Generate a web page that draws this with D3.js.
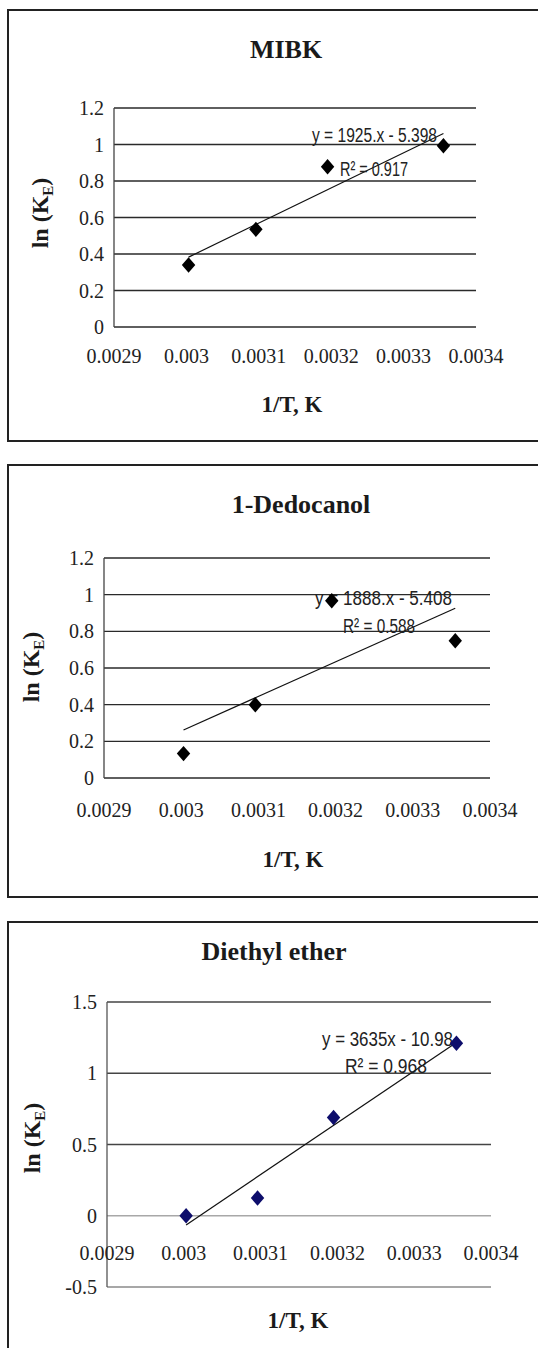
<!DOCTYPE html>
<html>
<head>
<meta charset="utf-8">
<script src="https://cdn.jsdelivr.net/npm/d3@7"></script>
<style>
  body { margin: 0; background: #fff; }
  svg { display: block; }
</style>
</head>
<body>
<div id="chart"></div>
<script>
// 1/T values (same four temperatures in each panel)
const invT = [0.003003, 0.003096, 0.003195, 0.003355];

// ln(KE)
const lnKeMibk = [0.34, 0.535, 0.878, 0.993];
const lnKeDodecanol = [0.133, 0.40, 0.967, 0.749];
const lnKeEther = [0.0, 0.124, 0.69, 1.21];

// trendline equations as printed
const slopes = [1925, 1888, 3635];
const intercepts = [-5.398, -5.408, -10.98];
const eqLabels = ["y = 1925.x - 5.398", "y = 1888.x - 5.408", "y = 3635x - 10.98"];
const r2Labels = ["R\u00B2 = 0.917", "R\u00B2 = 0.588", "R\u00B2 = 0.968"];

const titles = ["MIBK", "1-Dedocanol", "Diethyl ether"];

const xTicks = [0.0029, 0.003, 0.0031, 0.0032, 0.0033, 0.0034];
const xTickLabels = ["0.0029", "0.003", "0.0031", "0.0032", "0.0033", "0.0034"];
const yTicksA = [0, 0.2, 0.4, 0.6, 0.8, 1, 1.2];
const yTicksB = [-0.5, 0, 0.5, 1, 1.5];

const serif = "'Liberation Serif', 'Times New Roman', serif";

var svg = d3.select("#chart")
    .append("svg")
    .attr("width", 538)
    .attr("height", 1348);

function drawPanel(p){
    var g = svg.append("g");

    // outer frame
    g.append("rect")
    .attr("x", 8)
    .attr("y", p.top)
    .attr("width", 560)
    .attr("height", p.boxH)
    .style("fill", "none")
    .style("stroke", "#222")
    .style("stroke-width", 2);

    const x = d3.scaleLinear()
    .domain([0.0029, 0.0034])
    .range([p.left, p.right]);

    const y = d3.scaleLinear()
    .domain(p.yDomain)
    .range([p.bottom, p.plotTop]);

    // gridlines
    g.selectAll(".grid")
    .data(p.yTicks)
    .enter().append("line")
    .attr("x1", p.left)
    .attr("x2", p.right)
    .attr("y1", d => y(d))
    .attr("y2", d => y(d))
    .style("stroke", d => p.gridColor(d))
    .style("stroke-width", 1.3);

    // vertical axis line
    g.append("line")
    .attr("x1", p.left)
    .attr("x2", p.left)
    .attr("y1", y(p.yDomain[0]))
    .attr("y2", y(p.yDomain[1]))
    .style("stroke", p.axisColor)
    .style("stroke-width", 1.3);

    // y tick labels
    g.selectAll(".ytick")
    .data(p.yTicks)
    .enter().append("text")
    .attr("x", p.left - 10)
    .attr("y", d => y(d) + 7)
    .attr("text-anchor", "end")
    .attr("font-family", serif)
    .attr("font-size", "20px")
    .attr("fill", "#222")
    .text(d => String(d));

    // x tick labels
    g.selectAll(".xtick")
    .data(xTicks)
    .enter().append("text")
    .attr("x", d => x(d))
    .attr("y", y(0) + p.xLabOff)
    .attr("text-anchor", "middle")
    .attr("font-family", serif)
    .attr("font-size", "20px")
    .attr("fill", "#222")
    .text((d, i) => xTickLabels[i]);

    // title
    g.append("text")
    .attr("x", p.titleX)
    .attr("y", p.top + p.titleOff)
    .attr("text-anchor", "middle")
    .attr("font-family", serif)
    .attr("font-weight", "bold")
    .attr("font-size", "26px")
    .attr("fill", "#1a1a1a")
    .text(p.title);

    // x axis title
    g.append("text")
    .attr("x", p.xTitleX)
    .attr("y", p.top + p.xTitleOff)
    .attr("text-anchor", "middle")
    .attr("font-family", serif)
    .attr("font-weight", "bold")
    .attr("font-size", "23px")
    .attr("fill", "#1a1a1a")
    .text("1/T, K");

    // y axis title
    var yt = g.append("text")
    .attr("transform", "translate(" + (p.yTitleX + 8) + "," + p.yTitleY + ") rotate(-90)")
    .attr("text-anchor", "middle")
    .attr("font-family", serif)
    .attr("font-weight", "bold")
    .attr("font-size", "24px")
    .attr("fill", "#1a1a1a");
    yt.append("tspan").text("ln (K");
    yt.append("tspan").attr("font-size", "15px").attr("dy", 5).text("E");
    yt.append("tspan").attr("dy", -5).text(")");

    // trendline from the printed equation
    const xs = d3.extent(p.xs);
    g.append("line")
    .attr("x1", x(xs[0]))
    .attr("y1", y(p.slope * xs[0] + p.intercept))
    .attr("x2", x(xs[1]))
    .attr("y2", y(p.slope * xs[1] + p.intercept))
    .style("stroke", "#111")
    .style("stroke-width", 1.2);

    // equation labels
    g.append("text")
    .attr("x", p.eqX)
    .attr("y", p.eqY)
    .attr("font-family", "'Liberation Sans', Arial, sans-serif")
    .attr("font-size", "20px")
    .attr("fill", "#222")
    .attr("textLength", p.eqW)
    .attr("lengthAdjust", "spacingAndGlyphs")
    .text(p.eq);
    g.append("text")
    .attr("x", p.r2X)
    .attr("y", p.r2Y)
    .attr("font-family", "'Liberation Sans', Arial, sans-serif")
    .attr("font-size", "20px")
    .attr("fill", "#222")
    .attr("textLength", p.r2W)
    .attr("lengthAdjust", "spacingAndGlyphs")
    .text(p.r2);

    // markers
    g.selectAll(".pt")
    .data(p.xs.map((v, i) => [v, p.ys[i]]))
    .enter().append("path")
    .attr("d", d3.symbol(d3.symbolDiamond2, 115))
    .attr("transform", d => "translate(" + x(d[0]) + "," + y(d[1]) + ") scale(1,1.15)")
    .style("fill", p.markColor);
}

drawPanel({
    top: 10, boxH: 431,
    left: 114, right: 476, plotTop: 108, bottom: 327,
    yDomain: [0, 1.2], yTicks: yTicksA,
    gridColor: d => "#2a2a2a", axisColor: "#444",
    xLabOff: 36, title: titles[0], titleX: 286, titleOff: 48,
    xTitleX: 292, xTitleOff: 402, yTitleX: 40, yTitleY: 213,
    xs: invT, ys: lnKeMibk, slope: slopes[0], intercept: intercepts[0],
    eq: eqLabels[0], eqX: 312, eqY: 142, eqW: 125,
    r2: r2Labels[0], r2X: 340, r2Y: 176, r2W: 68,
    markColor: "#000"
});

drawPanel({
    top: 465, boxH: 432,
    left: 104, right: 490, plotTop: 558, bottom: 778,
    yDomain: [0, 1.2], yTicks: yTicksA,
    gridColor: d => "#2a2a2a", axisColor: "#444",
    xLabOff: 39, title: titles[1], titleX: 301, titleOff: 48,
    xTitleX: 293, xTitleOff: 402, yTitleX: 31, yTitleY: 667,
    xs: invT, ys: lnKeDodecanol, slope: slopes[1], intercept: intercepts[1],
    eq: eqLabels[1], eqX: 315, eqY: 605, eqW: 137,
    r2: r2Labels[1], r2X: 343, r2Y: 633, r2W: 72,
    markColor: "#000"
});

drawPanel({
    top: 922, boxH: 460,
    left: 107, right: 491, plotTop: 1002, bottom: 1287,
    yDomain: [-0.5, 1.5], yTicks: yTicksB,
    gridColor: d => d === 0 ? "#a8a8a8" : (d === -0.5 ? "#8a8a8a" : "#444"), axisColor: "#555",
    xLabOff: 44, title: titles[2], titleX: 274, titleOff: 38,
    xTitleX: 298, xTitleOff: 406, yTitleX: 32, yTitleY: 1138,
    xs: invT, ys: lnKeEther, slope: slopes[2], intercept: intercepts[2],
    eq: eqLabels[2], eqX: 322, eqY: 1046, eqW: 131,
    r2: r2Labels[2], r2X: 345, r2Y: 1073, r2W: 82,
    markColor: "#0d0d6b"
});
</script>
</body>
</html>
